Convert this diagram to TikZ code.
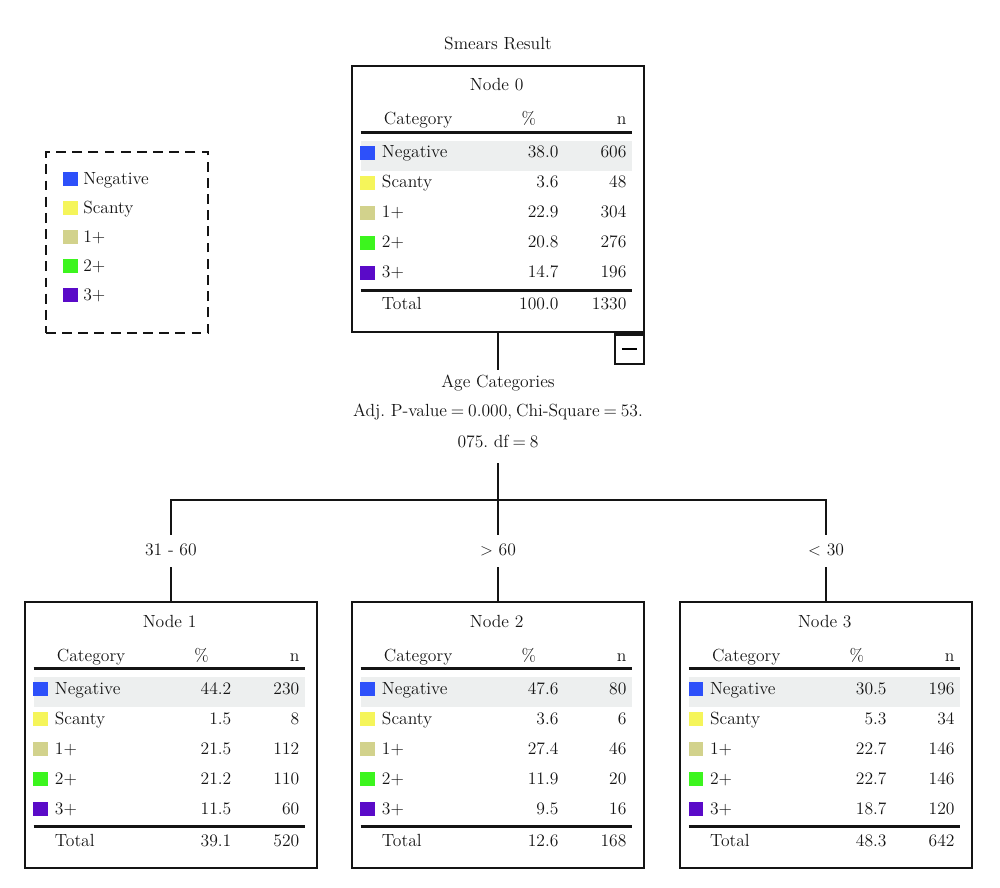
\documentclass[tikz,border=0pt]{standalone}
\usepackage{tikz}
\usetikzlibrary{positioning}
\usepackage{xcolor}

\definecolor{cneg}{RGB}{45,80,250}
\definecolor{cscan}{RGB}{245,245,90}
\definecolor{cone}{RGB}{210,210,140}
\definecolor{ctwo}{RGB}{60,245,30}
\definecolor{cthree}{RGB}{90,10,200}
\definecolor{rowbg}{RGB}{237,239,239}
\definecolor{ink}{RGB}{20,20,20}

\tikzset{
  catbox/.style={draw=ink, line width=1.8pt, minimum width=7.3cm, minimum height=6.65cm, inner sep=0pt},
  foldbox/.style={draw=ink, line width=1.6pt, minimum size=0.73cm, inner sep=0pt},
  legbox/.style={draw=ink, line width=1.8pt, dash pattern=on 7pt off 4.5pt, minimum width=4.05cm, minimum height=4.525cm},
  txt/.style={inner sep=0pt, text height=9pt, text depth=3pt, text=ink},
  lbl/.style={txt, anchor=west},
  num/.style={txt, anchor=east},
  swatch/.style={minimum size=0.36cm, inner sep=0pt},
  rule/.style={draw=ink, line width=2pt},
  wire/.style={draw=ink, line width=1.8pt}
}

% one tree node: name, title, rows, total %, total n
\newcommand{\nodetable}[5]{%
  \begin{scope}[shift={(#1.north west)}]
    \fill[rowbg] (10,76) rectangle (281,106);
    \node[txt] (#1-title) at (146,22) {#2};
    \node[lbl] (#1-hcat) at (33,56) {Category};
    \node[txt] (#1-hpct) at (178,56) {\%};
    \node[num] (#1-hn) at (276,56) {n};
    \draw[rule] (10,68) -- (281,68);
    \foreach \rowcol/\rowlab/\rowpc/\rown [count=\i from 0] in {#3} {
      \node[swatch, fill=\rowcol] (#1-sw\i) at (17,88+30*\i) {};
      \node[lbl] (#1-lab\i) at (31,89+30*\i) {\rowlab};
      \node[num] (#1-pc\i) at (208,89+30*\i) {\rowpc};
      \node[num] (#1-n\i) at (276,89+30*\i) {\rown};
    }
    \draw[rule] (10,226) -- (281,226);
    \node[lbl] (#1-tot) at (31,241) {Total};
    \node[num] (#1-totpc) at (208,241) {#4};
    \node[num] (#1-totn) at (276,241) {#5};
  \end{scope}}

\begin{document}
\begin{tikzpicture}[x=0.025cm, y=-0.025cm, on grid, font=\fontsize{12.5}{15}\selectfont]
   \useasboundingbox (0,0) rectangle (1000,888);

   % tree nodes
   \node[txt] (head) at (498,45) {Smears Result};
   \node[catbox] (n0) at (498,199) {};
   \node[catbox] (n2) [below=13.4cm of n0] {};
   \node[catbox] (n1) [left=8.175cm of n2] {};
   \node[catbox] (n3) [right=8.2cm of n2] {};
   \node[foldbox, anchor=north east] (fold) at (n0.south east) {\rule{11pt}{1.4pt}};

   % split labels
   \node[txt, inner ysep=3.3pt] (var) [below=4.6cm of n0] {Age Categories};
   \node[txt] (stat1) [below=0.725cm of var] {\spaceskip=0.22em plus 0.05em Adj. P-value = 0.000, Chi-Square = 53.};
   \node[txt, inner ysep=8pt] (stat2) [below=0.775cm of stat1] {\spaceskip=0.22em plus 0.05em 075. df = 8};
   \node[txt, inner ysep=5.4pt] (b1) [above=4.6cm of n1] {31 - 60};
   \node[txt, inner ysep=5.4pt] (b2) [above=4.6cm of n2] {$>$ 60};
   \node[txt, inner ysep=5.4pt] (b3) [above=4.6cm of n3] {$<$ 30};
   \coordinate[above=1.275cm of b2] (fork);

   \draw[wire] (n0.south) -- (var.north);
   \draw[wire] (stat2.south) -- (fork);
   \draw[wire] (fork) -| (b1.north);
   \draw[wire] (fork) -| (b3.north);
   \draw[wire] (fork) -- (b2.north);
   \draw[wire] (b1.south) -- (n1.north);
   \draw[wire] (b2.south) -- (n2.north);
   \draw[wire] (b3.south) -- (n3.north);

   % tables
   \nodetable{n0}{Node 0}{cneg/Negative/38.0/606, cscan/Scanty/3.6/48, cone/1+/22.9/304, ctwo/2+/20.8/276, cthree/3+/14.7/196}{100.0}{1330}
   \nodetable{n1}{Node 1}{cneg/Negative/44.2/230, cscan/Scanty/1.5/8, cone/1+/21.5/112, ctwo/2+/21.2/110, cthree/3+/11.5/60}{39.1}{520}
   \nodetable{n2}{Node 2}{cneg/Negative/47.6/80, cscan/Scanty/3.6/6, cone/1+/27.4/46, ctwo/2+/11.9/20, cthree/3+/9.5/16}{12.6}{168}
   \nodetable{n3}{Node 3}{cneg/Negative/30.5/196, cscan/Scanty/5.3/34, cone/1+/22.7/146, ctwo/2+/22.7/146, cthree/3+/18.7/120}{48.3}{642}

   % legend
   \node[legbox] (legend) at (127,242.5) {};
   \foreach \keycol/\keylab [count=\i from 0] in {cneg/Negative, cscan/Scanty, cone/1+, ctwo/2+, cthree/3+} {
     \node[swatch, fill=\keycol] (key\i) at (70.5,179+29*\i) {};
     \node[lbl] (keylab\i) at (83,180+29*\i) {\keylab};
   }
\end{tikzpicture}
\end{document}
